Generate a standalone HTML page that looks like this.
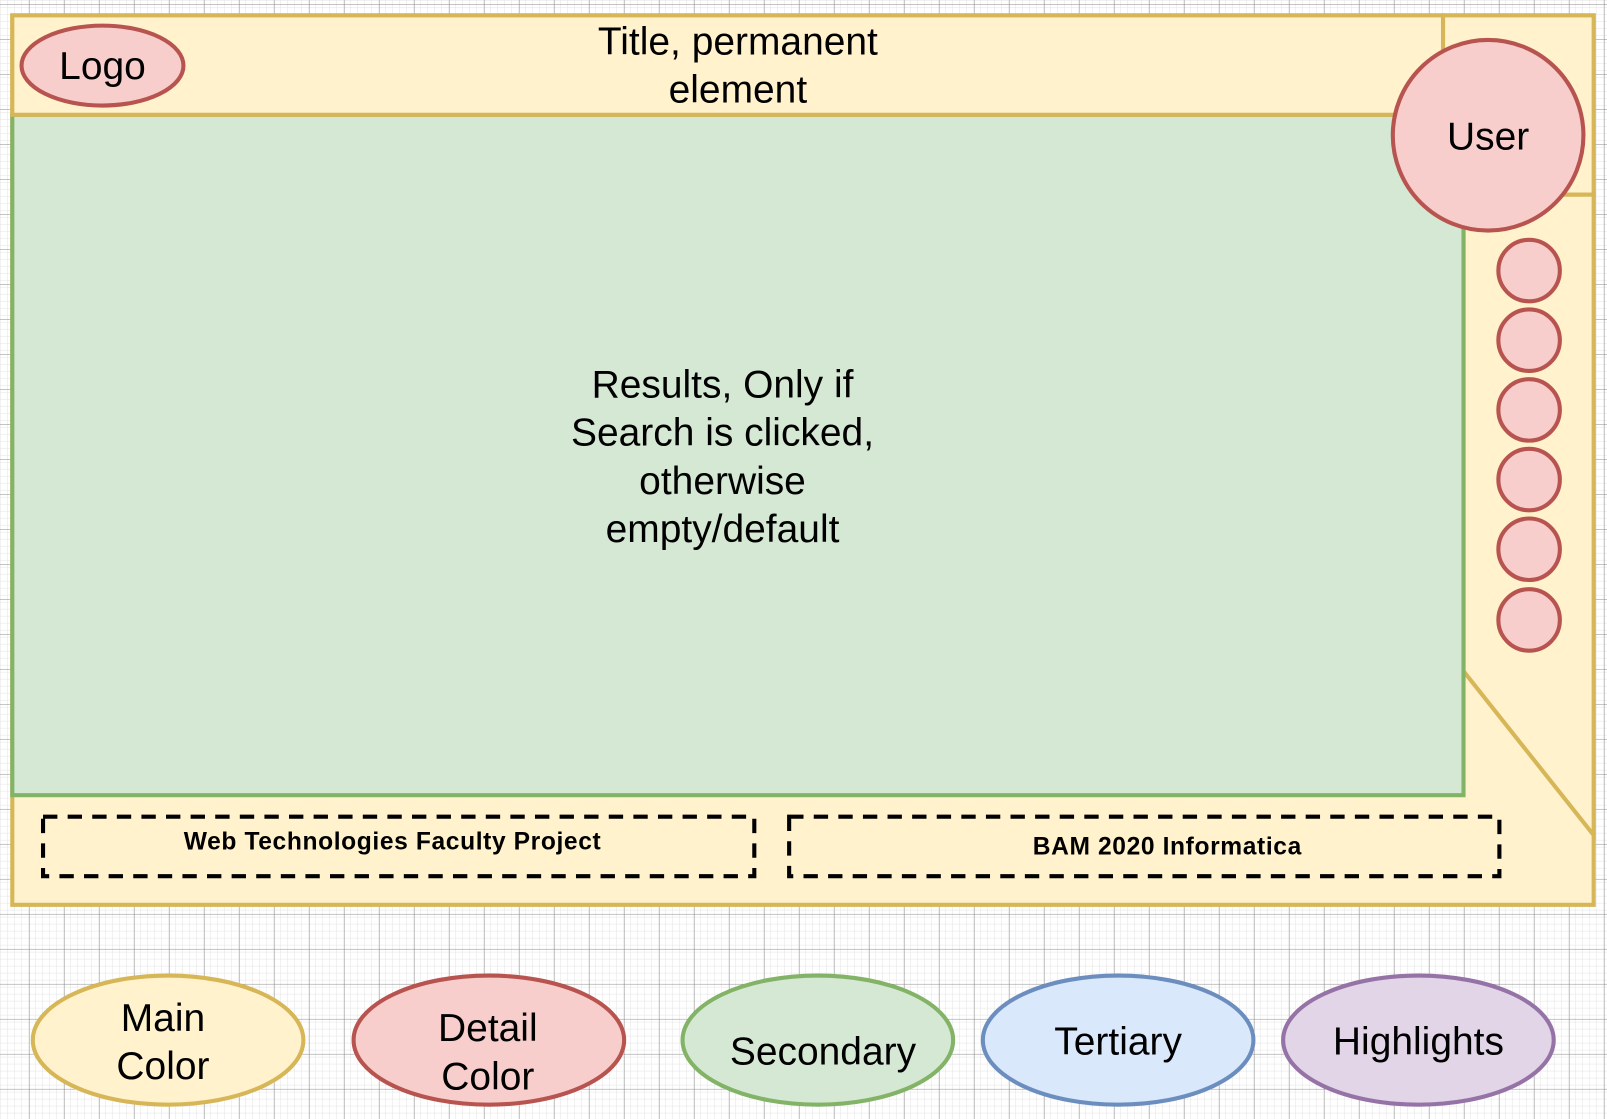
<!DOCTYPE html>
<html><head><meta charset="utf-8"><style>html,body{margin:0;padding:0;background:#fff}svg{display:block}</style></head>
<body>
<svg width="1607" height="1119" viewBox="0 0 1568 1092" preserveAspectRatio="none" xmlns="http://www.w3.org/2000/svg" font-family="Liberation Sans, Arial, sans-serif">
<defs>
<pattern id="minor" width="6.83" height="6.83" patternUnits="userSpaceOnUse" x="0.5" y="0.5">
<path d="M6.83 0V6.83M0 6.83H6.83" stroke="#e3e3e3" stroke-width="1" fill="none"/>
</pattern>
<pattern id="major" width="34.15" height="34.15" patternUnits="userSpaceOnUse" x="28.3" y="4">
<path d="M0 0V34.15M0 0H34.15" stroke="#8a8a8a" stroke-width="0.9" fill="none"/>
</pattern>
</defs>
<rect width="1568" height="1092" fill="#fff"/>
<rect width="1568" height="1092" fill="url(#minor)"/>
<rect width="1568" height="1092" fill="url(#major)"/>

<g stroke="#d6b656" stroke-width="4" fill="#fff2cc">
<rect x="12" y="15" width="1543" height="868"/>
<rect x="1408" y="15" width="147" height="175"/>
<path d="M1428 190 H1555 V815 L1428 655 Z"/>
</g>
<rect x="12" y="112" width="1416" height="664" fill="#d5e8d4" stroke="#82b366" stroke-width="4"/>
<rect x="12" y="15" width="1396" height="97" fill="#fff2cc" stroke="#d6b656" stroke-width="4"/>

<g fill="#f8cecc" stroke="#b85450" stroke-width="4">
<circle cx="1452" cy="132" r="93"/>
<circle cx="1492" cy="264" r="30"/>
<circle cx="1492" cy="332" r="30"/>
<circle cx="1492" cy="400" r="30"/>
<circle cx="1492" cy="468" r="30"/>
<circle cx="1492" cy="536" r="30"/>
<circle cx="1492" cy="605" r="30"/>
<ellipse cx="100" cy="64" rx="79" ry="39"/>
</g>

<g fill="none" stroke="#000" stroke-width="4" stroke-dasharray="14 10">
<rect x="42" y="797" width="694" height="58"/>
<rect x="770" y="797" width="693" height="58"/>
</g>

<g stroke-width="4">
<ellipse cx="164" cy="1015" rx="132" ry="63" fill="#fff2cc" stroke="#d6b656"/>
<ellipse cx="477" cy="1015" rx="132" ry="63" fill="#f8cecc" stroke="#b85450"/>
<ellipse cx="798" cy="1015" rx="132" ry="63" fill="#d5e8d4" stroke="#82b366"/>
<ellipse cx="1091" cy="1015" rx="132" ry="63" fill="#dae8fc" stroke="#6c8ebf"/>
<ellipse cx="1384" cy="1015" rx="132" ry="63" fill="#e1d5e7" stroke="#9673a6"/>
</g>

<g font-size="38" text-anchor="middle" fill="#000">
<text x="100" y="77">Logo</text>
<text x="720" y="53">Title, permanent</text>
<text x="720" y="100">element</text>
<text x="1452" y="146">User</text>
<text x="705" y="388">Results, Only if</text>
<text x="705" y="435">Search is clicked,</text>
<text x="705" y="482">otherwise</text>
<text x="705" y="529">empty/default</text>
<text x="159" y="1006">Main</text>
<text x="159" y="1053">Color</text>
<text x="476" y="1016">Detail</text>
<text x="476" y="1063">Color</text>
<text x="803" y="1039">Secondary</text>
<text x="1091" y="1029">Tertiary</text>
<text x="1384" y="1029">Highlights</text>
</g>
<g font-size="24" font-weight="bold" text-anchor="middle" fill="#000" letter-spacing="0.6">
<text x="383" y="829">Web Technologies Faculty Project</text>
<text x="1139" y="834">BAM 2020 Informatica</text>
</g>
</svg>
</body></html>
